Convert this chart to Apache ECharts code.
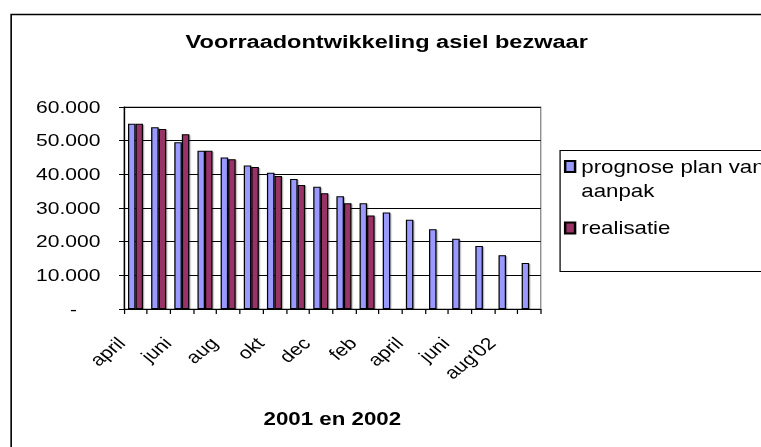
<!DOCTYPE html>
<html lang="nl">
<head>
    <meta charset="UTF-8">
    <title>Voorraadontwikkeling asiel bezwaar</title>
    <script src="https://cdn.jsdelivr.net/npm/echarts@6/dist/echarts.min.js"></script>
    <style>
        *{
            margin: 0;
            padding: 0;
        }
        body{
            width: 761px;
            height: 447px;
            overflow: hidden;
            background: #fff;
        }
        /* het origineel is horizontaal uitgerekt, dus smaller tekenen en oprekken */
        #box{
            width: 614px;
            height: 447px;
            transform: scaleX(1.2394);
            transform-origin: 0 0;
        }
    </style>
</head>
<body>
<div id="box"></div>
<script type="text/javascript">
    // maanden april 2001 t/m sep 2002
    let maanden = ['april','mei','juni','juli','aug','sep','okt','nov','dec','jan','feb','mrt',
        'april','mei','juni','juli',"aug'02",'sep'];
    let prognose = [55000,54000,49500,47000,45000,42600,40500,38600,36300,33500,31400,28700,
        26500,23700,20900,18700,16000,13700];
    let realisatie = [55000,53500,51900,47000,44500,42200,39500,36800,34400,31400,27800];

    let font = 'Liberation Sans, Arial, sans-serif';
    let myChart = echarts.init(document.getElementById('box'), null, {renderer: 'svg'});

    let option = {
        backgroundColor: '#fff',
        animation: false,
        title: {
            text: 'Voorraadontwikkeling asiel bezwaar',
            left: 307,
            textAlign: 'center',
            top: 27,
            textStyle: {
                color: '#000',
                fontFamily: font,
                fontSize: 19,
                fontWeight: 'bold'
            }
        },
        legend: {
            orient: 'vertical',
            left: 455,
            top: 130.5,
            padding: 0,
            itemWidth: 8,
            itemHeight: 11,
            itemGap: 13.5,
            icon: 'rect',
            textStyle: {
                color: '#000',
                fontFamily: font,
                fontSize: 18,
                lineHeight: 24
            },
            data: ['prognose plan van aanpak', 'realisatie'],
            formatter: function (name) {
                return name === 'prognose plan van aanpak' ? ' \nprognose plan van\naanpak' : name;
            }
        },
        grid: {
            left: 100,
            right: 177.7,
            top: 107,
            bottom: 138,
            show: true,
            borderColor: '#808080',
            borderWidth: 1
        },
        xAxis: {
            type: 'category',
            data: maanden,
            name: '2001 en 2002',
            nameLocation: 'middle',
            nameGap: 101,
            nameTextStyle: {
                color: '#000',
                fontFamily: font,
                fontSize: 18,
                fontWeight: 'bold'
            },
            axisLine: {lineStyle: {color: '#000', width: 1}},
            axisTick: {show: true, interval: 0, length: 5, lineStyle: {color: '#000'}},
            axisLabel: {
                interval: 1,
                rotate: 45,
                margin: 20,
                padding: [0, 16, 0, 0],
                color: '#000',
                fontFamily: font,
                fontSize: 17
            }
        },
        yAxis: {
            type: 'value',
            min: 0,
            max: 60000,
            interval: 10000,
            axisLine: {show: true, lineStyle: {color: '#000', width: 1}},
            axisTick: {show: true, length: 4, lineStyle: {color: '#000'}},
            splitLine: {lineStyle: {color: '#000', width: 1}},
            axisLabel: {
                margin: 19,
                color: '#000',
                fontFamily: font,
                fontSize: 17,
                formatter: function (v) {
                    if (v === 0) return '-\u2007\u2007';
                    return (v / 1000) + '.000';
                }
            }
        },
        graphic: [
            {
                type: 'rect',
                left: 6.5,
                top: 12,
                shape: {width: 700, height: 500},
                style: {fill: 'none', stroke: '#000', lineWidth: 1.3},
                silent: true
            },
            {
                type: 'rect',
                left: 449.4,
                top: 148,
                shape: {width: 220, height: 121},
                style: {fill: 'none', stroke: '#000', lineWidth: 1},
                silent: true
            }
        ],
        series: [
            {
                name: 'prognose plan van aanpak',
                type: 'bar',
                data: prognose,
                barGap: '0%',
                barCategoryGap: '35%',
                itemStyle: {
                    color: '#9999FF',
                    borderColor: '#000',
                    borderWidth: 1,
                    shadowColor: 'rgba(0,0,0,0.3)',
                    shadowOffsetX: 1,
                    shadowOffsetY: 1
                }
            },
            {
                name: 'realisatie',
                type: 'bar',
                data: realisatie,
                itemStyle: {
                    color: '#993366',
                    borderColor: '#000',
                    borderWidth: 1,
                    shadowColor: 'rgba(0,0,0,0.3)',
                    shadowOffsetX: 1,
                    shadowOffsetY: 1
                }
            }
        ]
    };
    myChart.setOption(option);
</script>
</body>
</html>
